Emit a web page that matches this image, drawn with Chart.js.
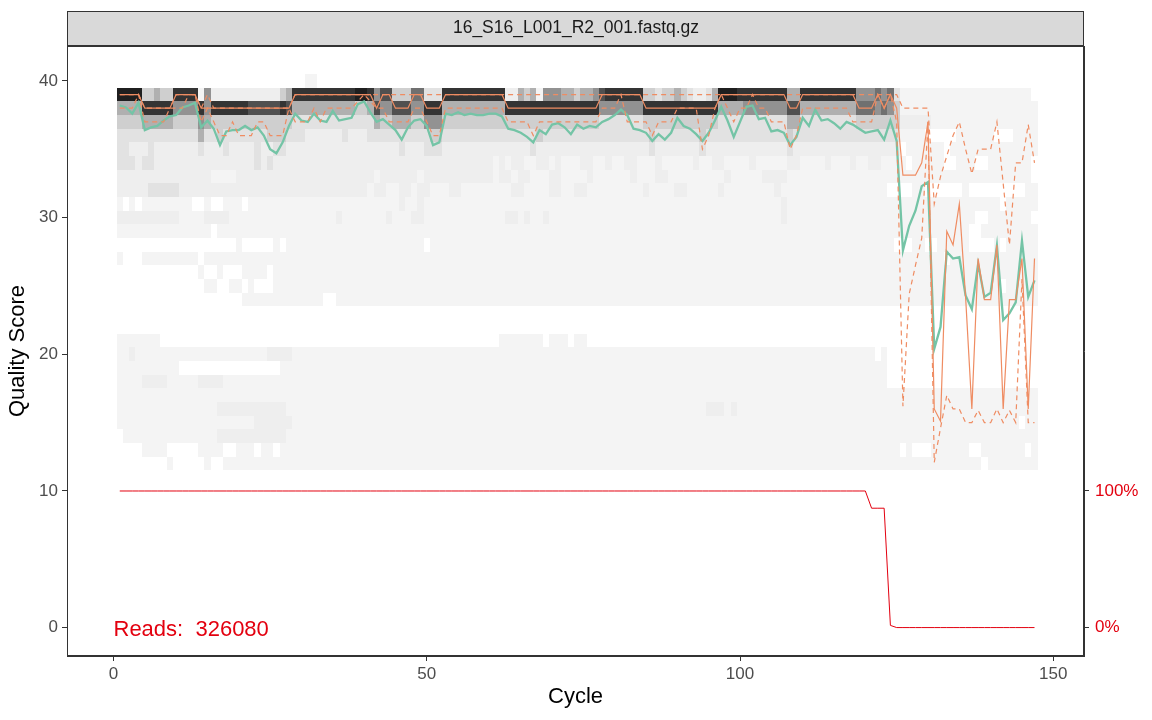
<!DOCTYPE html>
<html><head><meta charset="utf-8">
<script src="https://cdn.jsdelivr.net/npm/chart.js@4.4.1/dist/chart.umd.min.js"></script>
<style>html,body{margin:0;padding:0;background:#fff;}canvas{display:block;}</style>
</head><body>
<canvas id="c" width="1152" height="720"></canvas>
<script>
const panelTitle = "16_S16_L001_R2_001.fastq.gz";
const readsLabel = "Reads:  326080";
const xTickValues = [0, 50, 100, 150];
const yTickValues = [0, 10, 20, 30, 40];
const rightTickValues = [0, 10];
const rightTickLabels = ["0%", "100%"];
const cycles = Array.from({length: 147}, (_, i) => i + 1);

const meanQ = [38.2,38.05,37.6,38.4,36.4,36.6,36.7,37.1,37.4,37.5,
38.05,38.2,38.4,36.6,37.1,36.5,35.3,36.3,36.4,36.4,
36.7,36.4,36.6,36.0,35.0,34.7,35.5,36.7,37.6,37.1,
37.0,37.6,37.1,37.0,37.8,37.1,37.2,37.3,38.3,38.5,
37.7,37.0,37.2,36.8,36.4,35.7,36.6,37.1,37.2,36.7,
35.3,35.5,37.6,37.5,37.7,37.5,37.6,37.5,37.5,37.6,
37.6,37.4,36.5,36.4,36.2,35.9,35.5,36.4,36.1,36.8,
36.9,36.6,36.1,36.8,36.5,36.7,36.6,37.0,37.2,37.5,
37.9,37.5,36.5,36.4,36.2,35.6,36.1,35.7,36.2,37.3,
36.7,36.5,36.1,35.6,36.2,37.1,38.1,37.1,35.9,37.0,
38.1,38.2,37.2,37.3,36.3,36.4,36.2,35.3,35.9,37.3,
36.7,37.9,37.1,37.2,36.9,36.5,37.0,36.8,36.5,36.2,
36.3,36.4,35.7,37.1,35.6,27.6,29.4,30.5,32.3,32.6,
20.4,22.0,27.5,27.0,27.1,24.3,23.3,26.6,24.2,24.5,
27.95,22.5,23.0,23.8,28.3,24.2,25.4];

const q25 = [38,38,38,39,37,37,37,37,38,38,
38,39,39,37,38,37,36,36,37,36,
36,36,37,37,36,36,36,38,37,37,
37,38,37,38,38,38,38,38,38.5,39,
38.5,38,38,37,37,37,37,38,38,37,
36,36,38,38,38,38,38,38,38,38,
38,38,37,37,37,37,36,37,37,37,
37,37,37,37,37,37,37,38,38,38,
39,37,37,37,37,36,37,37,37,38,
38,38,38,35,36,38,39,38,37,38,
38,39,38,38,37,37,37,35,36,38,
38,38,38,38,38,38,38,37,37,37,
37,39,38,39,37,16.2,24.4,26.5,28.5,37,
12.1,14.6,17,16,16,15,15,15.9,15,15,
16,15,15.9,15,25.5,15,15];

const q50 = [39,39,39,39,38,38,38,38,38,39,
39,39,39,38,38,38,38,38,38,38,
38,38,38,38,38,38,38,38,39,39,
39,39,39,39,39,39,39,39,39,39,
39,38,39,39,38,38,38,39,39,38,
38,38,39,39,39,39,39,39,39,39,
39,39,38,38,38,38,38,38,38,38,
38,38,38,38,38,38,38,39,39,39,
39,39,39,39,38,38,38,38,38,38,
38,38,38,38,38,38,39,39,39,39,
39,39,39,39,39,39,39,38,38,39,
39,39,39,39,39,39,39,39,38,38,
38,39,38,39,38,33.1,33.1,33.1,34,37,
16,15.1,29,28,31,24.2,16,27,24,24,
28,16,24,24,27,16,27];

const q75 = [39,39,39,39,38,38,38,38,38,39,
39,39,39,38,39,38,38,38,38,38,
38,38,38,38,38,38,38,38,39,39,
39,39,39,39,39,39,39,39,39,39,
39,39,39,39,39,39,39,39,39,39,
39,39,39,39,39,39,39,39,39,39,
39,39,39,39,39,39,39,39,39,39,
39,39,39,39,39,39,39,39,39,39,
39,39,39,39,39,39,39,39,39,39,
39,39,39,39,39,39,39,39,39,39,
39,39,39,39,39,39,39,39,39,39,
39,39,39,39,39,39,39,39,39,39,
39,39,39,39,39,38,38,38,38,38,
31,33,34.5,36,37,35,33.2,35,35,35,
37,32.5,28,34,34,36.8,34];

// fraction of reads still present (scaled: 10 = 100%)
const readsScaled = [10,10,10,10,10,10,10,10,10,10,
10,10,10,10,10,10,10,10,10,10,
10,10,10,10,10,10,10,10,10,10,
10,10,10,10,10,10,10,10,10,10,
10,10,10,10,10,10,10,10,10,10,
10,10,10,10,10,10,10,10,10,10,
10,10,10,10,10,10,10,10,10,10,
10,10,10,10,10,10,10,10,10,10,
10,10,10,10,10,10,10,10,10,10,
10,10,10,10,10,10,10,10,10,10,
10,10,10,10,10,10,10,10,10,10,
10,10,10,10,10,10,10,10,10,10,
8.74,8.74,8.74,0.17,0.01,0.01,0.01,0.01,0.01,0.01,
0.01,0.01,0.01,0.01,0.01,0.01,0.01,0.01,0.01,0.01,
0.01,0.01,0.01,0.01,0.01,0.01,0.01];

// heatmap: one string per quality score, one char per cycle (level 0-9, '.' = no reads)
const tileQualities = [40,39,38,37,36,35,34,33,32,31,30,29,28,27,26,25,24,21,20,19,18,17,16,15,14,13,12];
const tileLevels = [
".......... .......... .......... 00........ .......... .......... .......... .......... .......... .......... .......... .......... .......... .......... .......",
"9999334338 8880511111 1111113488 8888888899 8577333662 2288888888 8811434055 5443445788 8888332334 3211249998 8888888448 8888888855 5656200000 0000000000 000000.",
"4444888885 5558588888 8777778744 4444444433 4755777558 8844444444 4488888888 8888888555 5555888888 8888884444 5555555774 4444444466 6565300000 0000000000 0000000",
"3333444443 3335433333 3333333322 2222222222 2433444335 5533333333 3333333333 3333333222 2222333333 3333332222 2222222442 2222222233 3333311111 0000000000 0000000",
"2222222222 2224223222 2222333222 1111112111 2222222222 3322222222 2222222322 2222222222 2222232222 2223222222 2222222322 2222222222 222220000. ....000000 ...0000",
"2211121111 1112111211 1121122111 1111111111 1111121112 2211111111 1111112111 1111111111 1111121111 1112111111 1111111211 1111111111 11111.0000 00.0000000 0000000",
"2221221111 1111111111 1121211111 1111111111 1111111111 1111111111 0101100110 1000110010 0110001000 0010011000 0100000110 0001000100 110000.000 00..000..0 000000.",
"1111111111 1111100001 1111111111 1111111111 1011111101 1111111111 0110110001 1000010000 0010001100 0000000100 0001111000 0000000000 0000000000 0000000000 000000.",
"1111122222 1111111111 1111111111 1111111111 0110011011 0001100000 0001100001 1001100000 0000100001 1000001000 0000010000 0000000000 000....00. .....0.... .....00",
"0.0.000000 00..0..000 .000000000 0000000000 0000010010 0000000000 0000000000 0000000000 0000000000 0000000000 0000001000 0000000000 0000000000 0000000000 0.00000",
"1111111111 0000111100 0000000000 0000010000 0001000110 0000000000 0011010010 0000000000 0000000000 0000000000 0000001000 0000000000 0000000000 0000000..0 000000.",
"0000000000 00000.0000 0000000000 0000000000 0000000000 0000000000 0000000000 0000000000 0000000000 0000000000 0000000000 0000000000 0000000000 000000..00 0000000",
".......... .........0 .....0.000 0000000000 000000000. 0000000000 0000000000 0000000000 0000000000 0000000000 0000000000 0000000000 0000...00. .00000.... 0.00000",
"0...000000 000.000000 0000000000 0000000000 0000000000 0000000000 0000000000 0000000000 0000000000 0000000000 0000000000 0000000000 0000000000 00.0000000 0000000",
".......... ...0..0... 0000.00000 0000000000 0000000000 0000000000 0000000000 0000000000 0000000000 0000000000 0000000000 0000000000 0000000000 0000000000 0000000",
".......... ....00..00 .0...00000 0000000000 0000000000 0000000000 0000000000 0000000000 0000000000 0000000000 0000000000 0000000000 0000000000 0000000000 0.00000",
".......... .......... 0000000000 000..00000 0000000000 0000000000 0000000000 0000000000 0000000000 0000000000 0000000000 0000000000 0000000000 0000000000 0000000",
"0000000... .......... .......... .......... .......... .......... .0000000.0 00.00..... .......... .......... .......... .......... .......... .......... .......",
"0010000000 0000000000 0000111100 0000000000 0000000000 0000000000 0000000000 0000000000 0000000000 0000000000 0000000000 0000000000 0.0....... .......... .......",
"0000000000 .......... ......0000 0000000000 0000000000 0000000000 0000000000 0000000000 0000000000 0000000000 0000000000 0000000000 000....... .......... .......",
"0000111100 0001111000 0000000000 0000000000 0000000000 0000000000 0000000000 0000000000 0000000000 0000000000 0000000000 0000000000 000....... .......... .......",
"0000000000 0000000000 0000000000 0000000000 0000000000 0000000000 0000000000 0000000000 0000000000 0000000000 0000000000 0000000000 0000000000 0000000000 0000000",
"0000000000 0000001111 1111111000 0000000000 0000000000 0000000000 0000000000 0000000000 0000000000 0000111010 0000000000 0000000000 0000000000 0000000000 0000000",
"0000000000 0000000000 0011111100 0000000000 0000000000 0000000000 0000000000 0000000000 0000000000 0000000000 0000000000 0000000000 0000000000 0000000000 0000.00",
".000000000 0000001111 1111111000 0000000000 0000000000 0000000000 0000000000 0000000000 0000000000 0000000000 0000000000 0000000000 0000000000 0000000000 0000000",
"....0000.. ...0000..0 00.00.0000 0000000000 0000000000 0000000000 0000000000 0000000000 0000000000 0000000000 0000000000 0000000000 00000.0... 000000..00 00000.0",
"........0. ....0..000 0000000000 0000000000 0000000000 0000000000 0000000000 0000000000 0000000000 0000000000 0000000000 0000000000 0000000000 00000000.0 0000000"
];
const tilePalette = {"0":"#F4F4F4","1":"#EEEEEE","2":"#E2E2E2","3":"#CFCFCF","4":"#B0B0B0","5":"#929292","6":"#707070","7":"#505050","8":"#343434","9":"#1F1F1F"};

const FONT = "'Liberation Sans', Arial, Helvetica, sans-serif";
Chart.defaults.font.family = FONT;

const heatmapPlugin = {
  id: 'heatmap',
  beforeDatasetsDraw(chart) {
    const {ctx, chartArea: a, scales: {x, y}} = chart;
    ctx.save();
    ctx.beginPath(); ctx.rect(a.left, a.top, a.right - a.left, a.bottom - a.top); ctx.clip();
    tileQualities.forEach((q, r) => {
      const row = tileLevels[r].replace(/ /g, '');
      const y0 = Math.round(y.getPixelForValue(q + 0.5));
      const y1 = Math.round(y.getPixelForValue(q - 0.5));
      for (let i = 0; i < cycles.length; i++) {
        const ch = row[i];
        if (!ch || ch === '.') continue;
        const x0 = Math.round(x.getPixelForValue(cycles[i] - 0.5));
        const x1 = Math.round(x.getPixelForValue(cycles[i] + 0.5));
        ctx.fillStyle = tilePalette[ch];
        ctx.fillRect(x0, y0, x1 - x0, y1 - y0);
      }
    });
    ctx.restore();
  }
};

const framePlugin = {
  id: 'frame',
  beforeDraw(chart) {
    const {ctx, chartArea: a, width, height} = chart;
    ctx.save();
    ctx.fillStyle = '#FFFFFF';
    ctx.fillRect(0, 0, width, height);
    ctx.fillStyle = '#D9D9D9';
    ctx.fillRect(a.left, 11, a.right - a.left, a.top - 11);
    ctx.strokeStyle = '#333333';
    ctx.lineWidth = 1;
    ctx.strokeRect(a.left + 0.5, 11.5, a.right - a.left - 1, a.top - 11 - 1);
    ctx.restore();
  },
  afterDatasetsDraw(chart) {
    const {ctx, scales: {x, y}} = chart;
    ctx.save();
    ctx.fillStyle = '#E3000F';
    ctx.font = '22px ' + FONT;
    ctx.textAlign = 'left';
    ctx.textBaseline = 'alphabetic';
    ctx.fillText(readsLabel, x.getPixelForValue(0), y.getPixelForValue(0) + 8);
    ctx.restore();
  },
  afterDraw(chart) {
    const {ctx, chartArea: a} = chart;
    ctx.save();
    ctx.strokeStyle = '#333333';
    ctx.lineWidth = 1;
    ctx.strokeRect(a.left + 0.5, a.top + 0.5, a.right - a.left - 1, a.bottom - a.top - 1);
    ctx.restore();
  }
};

const pts = arr => cycles.map((c, i) => ({x: c, y: arr[i]}));
const YMIN = -2.07, YMAX = 42.55;

new Chart(document.getElementById('c'), {
  type: 'line',
  data: {
    datasets: [
      {label: 'Mean', data: pts(meanQ), borderColor: '#74C4A6', borderWidth: 2.3, order: 5},
      {label: 'Q25', data: pts(q25), borderColor: '#EF8C62', borderWidth: 1.2, borderDash: [5, 4], order: 4},
      {label: 'Median', data: pts(q50), borderColor: '#EF8C62', borderWidth: 1.2, order: 3},
      {label: 'Q75', data: pts(q75), borderColor: '#EF8C62', borderWidth: 1.2, borderDash: [5, 4], order: 2},
      {label: 'Reads', data: pts(readsScaled), borderColor: '#E3000F', borderWidth: 1, order: 1, yAxisID: 'y'}
    ]
  },
  options: {
    responsive: false,
    animation: false,
    devicePixelRatio: 1,
    elements: {point: {radius: 0}, line: {tension: 0, fill: false}},
    layout: {padding: {top: 11, left: 0, right: 0, bottom: 0}},
    plugins: {
      legend: {display: false},
      tooltip: {enabled: false},
      title: {display: true, text: panelTitle, color: '#1A1A1A', font: {size: 17.5, weight: 'normal'}, padding: {top: 7, bottom: 7}}
    },
    scales: {
      x: {
        type: 'linear', position: 'bottom', min: -7.42, max: 154.9,
        afterBuildTicks: s => { s.ticks = xTickValues.map(v => ({value: v})); },
        afterFit: s => { s.height = 64; },
        ticks: {color: '#4D4D4D', font: {size: 17}, padding: 3, maxRotation: 0, autoSkip: false},
        grid: {display: true, drawOnChartArea: false, drawTicks: true, tickLength: 5, tickColor: '#333333'},
        border: {display: true, color: '#333333'},
        title: {display: true, text: 'Cycle', color: '#000000', font: {size: 22}, padding: {top: 0, bottom: 10}}
      },
      y: {
        type: 'linear', position: 'left', min: YMIN, max: YMAX,
        afterBuildTicks: s => { s.ticks = yTickValues.map(v => ({value: v})); },
        afterFit: s => { s.width = 67; },
        ticks: {color: '#4D4D4D', font: {size: 17}, padding: 4},
        grid: {display: true, drawOnChartArea: false, drawTicks: true, tickLength: 5, tickColor: '#333333'},
        border: {display: true, color: '#333333'},
        title: {display: true, text: 'Quality Score', color: '#000000', font: {size: 22}, padding: {top: 5, bottom: 0}}
      },
      y2: {
        type: 'linear', position: 'right', min: YMIN, max: YMAX,
        afterBuildTicks: s => { s.ticks = rightTickValues.map(v => ({value: v})); },
        afterFit: s => { s.width = 68; },
        ticks: {color: '#E3000F', font: {size: 17}, padding: 6,
          callback: v => rightTickLabels[rightTickValues.indexOf(v)]},
        grid: {display: true, drawOnChartArea: false, drawTicks: true, tickLength: 5, tickColor: '#333333'},
        border: {display: true, color: '#333333'}
      }
    }
  },
  plugins: [heatmapPlugin, framePlugin]
});
</script>
</body></html>
